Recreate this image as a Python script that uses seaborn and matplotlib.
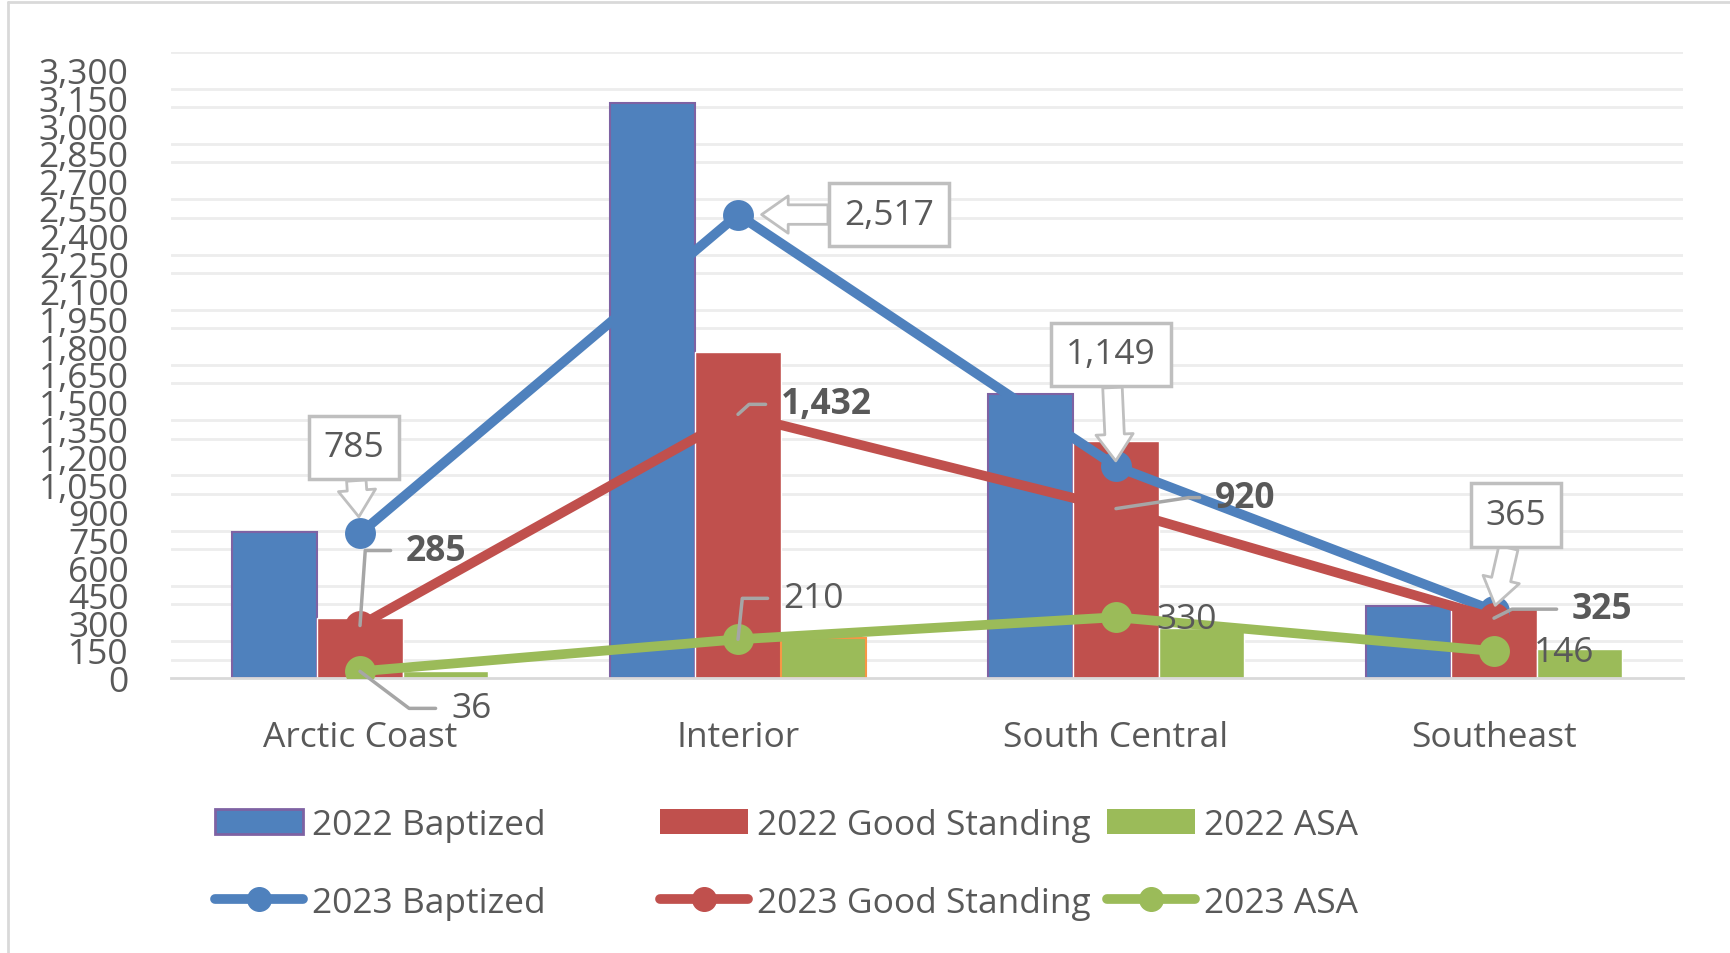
import matplotlib
matplotlib.use("Agg")
import matplotlib.pyplot as plt
from matplotlib.ticker import MultipleLocator, FixedLocator
from matplotlib.patches import Patch
from matplotlib.lines import Line2D
import seaborn as sns
import pandas as pd

# ---------------- data ----------------
regions = ["Arctic Coast", "Interior", "South Central", "Southeast"]
baptized_2022 = [795, 3125, 1540, 390]
good_standing_2022 = [325, 1770, 1285, 380]
asa_2022 = [40, 215, 270, 155]
baptized_2023 = [785, 2517, 1149, 365]
good_standing_2023 = [285, 1432, 920, 325]
asa_2023 = [36, 210, 330, 146]
bar_series = ["2022 Baptized", "2022 Good Standing", "2022 ASA"]
line_series = ["2023 Baptized", "2023 Good Standing", "2023 ASA"]
y_ticks = list(range(0, 3301, 150))

BLUE, RED, GREEN = "#4F81BD", "#C0504D", "#9BBB59"
PURPLE, ORANGE = "#7E62A3", "#F79646"
TXT = "#595959"
GRID = "#EDEDED"
AXC = "#D9D9D9"
FS = 25.5

sns.set_style("white")
plt.rcParams["font.family"] = ["Open Sans", "DejaVu Sans"]

df22 = pd.DataFrame({
    "Region": regions * 3,
    "Series": sum([[s] * 4 for s in bar_series], []),
    "Value": baptized_2022 + good_standing_2022 + asa_2022,
})
df23 = pd.DataFrame({
    "Region": regions * 3,
    "Series": sum([[s] * 4 for s in line_series], []),
    "Value": baptized_2023 + good_standing_2023 + asa_2023,
})

fig = plt.figure(figsize=(17.3, 9.54), dpi=100)
ax = fig.add_axes([171 / 1730, 1 - 679 / 954, (1683 - 171) / 1730, (679 - 53) / 954])

sns.barplot(data=df22, x="Region", y="Value", hue="Series", order=regions,
            hue_order=bar_series, palette=[BLUE, RED, GREEN], width=0.675,
            gap=0, saturation=1, errorbar=None, legend=False, ax=ax, zorder=2)
for bar in ax.containers[0]:
    bar.set_edgecolor(PURPLE)
    bar.set_linewidth(1.5)
ax.containers[2][1].set_edgecolor(ORANGE)
ax.containers[2][1].set_linewidth(1.5)

sns.pointplot(data=df23, x="Region", y="Value", hue="Series", order=regions,
              hue_order=line_series, palette=[BLUE, RED, GREEN], markers="o",
              markersize=17, linewidth=7, dodge=False, errorbar=None,
              legend=False, ax=ax)
for ln in ax.lines:
    ln.set_zorder(4)
    ln.set_solid_capstyle("round")

# axes styling
ax.set_xlim(-0.5, 3.5)
ax.set_ylim(0, 3400)
ax.set_yticks(y_ticks)
ax.set_yticklabels([f"{v:,}" for v in y_ticks])
ax.yaxis.set_minor_locator(MultipleLocator(100))
ax.grid(which="minor", axis="y", color=GRID, lw=2, zorder=0)
ax.grid(which="major", axis="y", visible=False)
ax.set_axisbelow(True)
ax.xaxis.set_minor_locator(FixedLocator([-0.5, 0.5, 1.5, 2.5, 3.5]))
ax.tick_params(axis="y", which="both", left=False, labelsize=FS, labelcolor=TXT, pad=27)
ax.tick_params(axis="x", which="major", length=0, labelsize=FS, labelcolor=TXT, pad=30)
ax.tick_params(axis="x", which="minor", length=8, width=2, color=AXC, direction="out")
for s in ["top", "right", "left"]:
    ax.spines[s].set_visible(False)
ax.spines["bottom"].set_color(AXC)
ax.spines["bottom"].set_linewidth(2)
ax.set_xlabel("")
ax.set_ylabel("")

# ---------------- data labels ----------------
def callout(i, v, dx, dy, shrink):
    ax.annotate(f"{v:,}", xy=(i, v), xytext=(dx, dy), textcoords="offset pixels",
                ha="center", va="center", fontsize=FS, color=TXT, zorder=10,
                bbox=dict(boxstyle="square,pad=0.42", fc="white", ec="#BFBFBF", lw=2.5),
                arrowprops=dict(arrowstyle="simple,head_length=0.75,head_width=1.05,tail_width=0.55",
                                fc="white", ec="#BFBFBF", lw=2, shrinkA=0, shrinkB=shrink))

def leader(i, v, dx, dy, ang, bold):
    ax.annotate(f"{v:,}", xy=(i, v), xytext=(dx, dy), textcoords="offset pixels",
                ha="left", va="center", fontsize=FS, color=TXT, zorder=10,
                fontweight="bold" if bold else "normal",
                bbox=dict(boxstyle="square,pad=0.2", fc="none", ec="none"),
                arrowprops=dict(arrowstyle="-", color="#A6A6A6", lw=2.5,
                                connectionstyle=f"angle,angleA=0,angleB={ang},rad=0",
                                relpos=(0, 0.5), shrinkA=6, shrinkB=0))

def plain(i, v, dx, dy):
    ax.annotate(f"{v:,}", xy=(i, v), xytext=(dx, dy), textcoords="offset pixels",
                ha="left", va="center", fontsize=FS, color=TXT, zorder=10)

# 2023 Baptized callouts
callout(0, baptized_2023[0], -6, 86, 12)
callout(1, baptized_2023[1], 151, 0, 17)
callout(2, baptized_2023[2], -5, 112, 4)
callout(3, baptized_2023[3], 22, 96, 4)
# 2023 Good Standing (bold)
leader(0, good_standing_2023[0], 46, 75, 86, True)
leader(1, good_standing_2023[1], 43, 10, 42, True)
leader(2, good_standing_2023[2], 99, 11, 8.6, True)
leader(3, good_standing_2023[3], 78, 9, 26.6, True)
# 2023 ASA
leader(0, asa_2023[0], 91, -37, -37, False)
leader(1, asa_2023[1], 45, 41, 84, False)
plain(2, asa_2023[2], 40, -2)
plain(3, asa_2023[3], 40, -1)

# ---------------- legend ----------------
bar_handles = [Patch(fc=BLUE, ec=PURPLE, lw=2), Patch(fc=RED, ec="none"), Patch(fc=GREEN, ec="none")]
line_handles = [Line2D([], [], color=c, lw=7, marker="o", markersize=17, solid_capstyle="round")
                for c in (BLUE, RED, GREEN)]
for k, x0 in enumerate([215, 660, 1107]):
    fig.legend([bar_handles[k], line_handles[k]], [bar_series[k], line_series[k]],
               loc="upper left", bbox_to_anchor=(x0 / 1730, 1 - 809 / 954),
               frameon=False, fontsize=FS, labelcolor=TXT, borderpad=0, borderaxespad=0,
               handlelength=2.49, handleheight=0.7, handletextpad=0.25, labelspacing=1.23)

# outer chart border (top and left visible)
fig.add_artist(Line2D([8 / 1730, 8 / 1730], [0, 1 - 3 / 954], transform=fig.transFigure, color=AXC, lw=2))
fig.add_artist(Line2D([8 / 1730, 1], [1 - 3 / 954, 1 - 3 / 954], transform=fig.transFigure, color=AXC, lw=2))

fig.savefig("out.png", dpi=100, facecolor="white")
